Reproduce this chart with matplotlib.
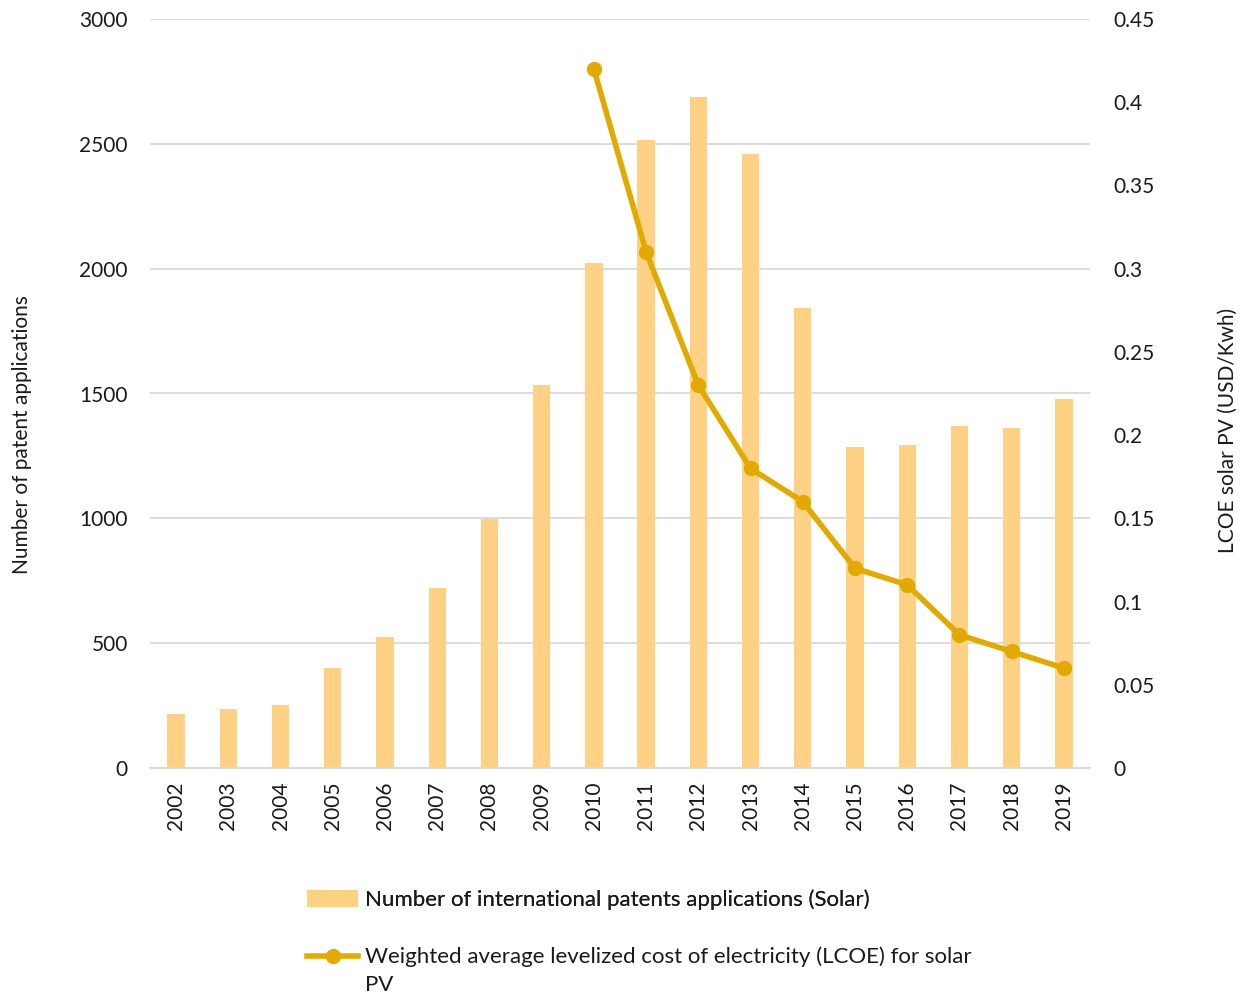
import matplotlib
matplotlib.use("Agg")
import matplotlib.pyplot as plt
from matplotlib.lines import Line2D
from matplotlib.patches import Patch

plt.rcParams['font.family'] = ['Lato', 'DejaVu Sans']

years = ['2002', '2003', '2004', '2005', '2006', '2007', '2008', '2009', '2010',
         '2011', '2012', '2013', '2014', '2015', '2016', '2017', '2018', '2019']
patents = [216, 236, 252, 400, 525, 721, 997, 1534, 2022,
           2515, 2687, 2459, 1842, 1286, 1294, 1370, 1362, 1478]
lcoe_years = ['2010', '2011', '2012', '2013', '2014', '2015', '2016', '2017', '2018', '2019']
lcoe = [0.42, 0.31, 0.23, 0.18, 0.16, 0.12, 0.11, 0.08, 0.07, 0.06]

bar_color = '#FED185'
line_color = '#E2AA00'
grid_color = '#D9D9D9'
text_color = '#1A1A1A'

fig = plt.figure(figsize=(12.46, 9.96), dpi=100)
ax = fig.add_axes([150/1246, 1-768/996, 940/1246, 749/996])
x = list(range(len(years)))
ax.bar(x, patents, width=0.33, color=bar_color, zorder=2)
ax.set_xlim(-0.5, len(years)-0.5)
ax.set_ylim(0, 3000)
ax.set_yticks(range(0, 3001, 500))
ax.set_xticks(x)
ax.set_xticklabels(years, rotation=90, fontsize=15, color=text_color)
ax.tick_params(axis='y', labelsize=15, colors=text_color, length=0, pad=16)
ax.tick_params(axis='x', length=0, pad=10)
ax.grid(axis='y', color=grid_color, linewidth=1.3, zorder=0)
for s in ['top', 'right', 'left']:
    ax.spines[s].set_visible(False)
ax.spines['bottom'].set_color(grid_color)
ax.spines['bottom'].set_linewidth(1.3)
ax.set_axisbelow(True)
ax.set_ylabel('Number of patent applications', fontsize=15, color=text_color,
              labelpad=34, y=0.445)

ax2 = ax.twinx()
lx = [years.index(y) for y in lcoe_years]
ax2.plot(lx, lcoe, color=line_color, linewidth=4, marker='o', markersize=10, zorder=3)
ax2.set_ylim(0, 0.45)
ax2.set_yticks([0, 0.05, 0.1, 0.15, 0.2, 0.25, 0.3, 0.35, 0.4, 0.45])
ax2.set_yticklabels(['0', '0.05', '0.1', '0.15', '0.2', '0.25', '0.3', '0.35', '0.4', '0.45'])
ax2.tick_params(axis='y', labelsize=15, colors=text_color, length=0, pad=16.5)
for s in ax2.spines.values():
    s.set_visible(False)
ax2.set_ylabel('LCOE solar PV (USD/Kwh)', fontsize=15, color=text_color,
               labelpad=46, y=0.451)

h1 = Patch(facecolor=bar_color, edgecolor='none')
h2 = Line2D([0], [0], color=line_color, linewidth=4, marker='o', markersize=10)
leg1 = fig.legend([h1], ['Number of international patents applications (Solar)'],
                  loc='center left', bbox_to_anchor=(307/1246, 1-900/996), frameon=False,
                  fontsize=16, handlelength=2.3, handleheight=0.8, handletextpad=0.3,
                  labelcolor=text_color, borderpad=0, borderaxespad=0)
fig.add_artist(leg1)
leg2 = fig.legend([h2], ['Weighted average levelized cost of electricity (LCOE) for solar'],
                  loc='center left', bbox_to_anchor=(307/1246, 1-957/996), frameon=False,
                  fontsize=16, handlelength=2.3, handletextpad=0.3, labelcolor=text_color,
                  borderpad=0, borderaxespad=0)
fig.text(365/1246, 1-985/996, 'PV', fontsize=16, color=text_color, va='center', ha='left')

fig.savefig('out.png', dpi=100, facecolor='white')
